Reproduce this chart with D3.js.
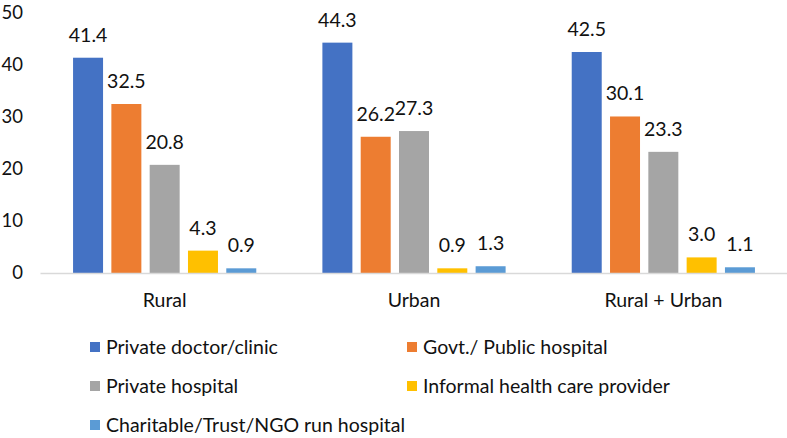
<!DOCTYPE html>
<html>
<head>
<meta charset="utf-8">
<script src="https://cdn.jsdelivr.net/npm/d3@7"></script>
<style>
  html, body { margin: 0; padding: 0; background: #fff; }
  svg { display: block; }
  text { font-family: Lato, "Open Sans", sans-serif; fill: #111; }
</style>
</head>
<body>
<svg id="chart" width="787" height="438"></svg>
<script>
const categories = ["Rural", "Urban", "Rural + Urban"];
const seriesNames = ["Private doctor/clinic", "Govt./ Public hospital", "Private hospital", "Informal health care provider", "Charitable/Trust/NGO run hospital"];
const privateDoctor = [41.4, 44.3, 42.5];
const govtHospital = [32.5, 26.2, 30.1];
const privateHospital = [20.8, 27.3, 23.3];
const informalProvider = [4.3, 0.9, 3.0];
const charitable = [0.9, 1.3, 1.1];
const yTicks = [0, 10, 20, 30, 40, 50];
const colors = ["#4472C4", "#ED7D31", "#A5A5A5", "#FFC000", "#5B9BD5"];

const seriesValues = [privateDoctor, govtHospital, privateHospital, informalProvider, charitable];
const FS = 19.5;

const svg = d3.select("#chart");
const y = d3.scaleLinear().domain([0, 50]).range([273, 13]);
const x0 = d3.scaleBand().domain(categories).range([40, 788]).paddingInner(0).paddingOuter(0);
const x1 = d3.scaleBand().domain(seriesNames).range([0, x0.bandwidth()]).paddingInner(0.217).paddingOuter(0.863);
const color = d3.scaleOrdinal().domain(seriesNames).range(colors);

// y axis labels
const yAxis = d3.axisLeft(y).tickValues(yTicks).tickSize(0).tickPadding(0).tickFormat(d3.format("d"));
const yg = svg.append("g").attr("transform", "translate(23,0)").call(yAxis);
yg.select(".domain").remove();
yg.selectAll("text").attr("font-size", 18.5).attr("font-family", "Lato, sans-serif").attr("fill", "#111");

// groups
const data = categories.map((c, i) => ({ cat: c, vals: seriesNames.map((s, j) => ({ s, v: seriesValues[j][i] })) }));
const g = svg.append("g").selectAll("g").data(data).join("g")
  .attr("transform", d => `translate(${x0(d.cat)},0)`);

g.selectAll("rect").data(d => d.vals).join("rect")
  .attr("x", d => x1(d.s))
  .attr("width", x1.bandwidth())
  .attr("y", d => y(d.v))
  .attr("height", d => y(0) - y(d.v))
  .attr("fill", d => color(d.s));

g.selectAll("text.lbl").data(d => d.vals).join("text")
  .attr("class", "lbl")
  .attr("x", d => x1(d.s) + x1.bandwidth() / 2)
  .attr("y", d => y(d.v) - 16)
  .attr("text-anchor", "middle")
  .attr("font-size", FS)
  .text(d => d3.format(".1f")(d.v));

// x axis
const xAxis = d3.axisBottom(x0).tickSize(0).tickPadding(0);
const xg = svg.append("g").attr("transform", `translate(0,${y(0)})`).call(xAxis);
xg.select(".domain").attr("stroke", "#D9D9D9").attr("stroke-width", 1.5);
xg.selectAll("text").attr("font-size", FS).attr("font-family", "Lato, sans-serif").attr("fill", "#111")
  .attr("dy", null).attr("y", 34);

// legend
const legendPos = [[90, 347], [407, 347], [90, 386], [407, 386], [90, 425]];
const lg = svg.append("g").selectAll("g").data(seriesNames).join("g")
  .attr("transform", (d, i) => `translate(${legendPos[i][0]},${legendPos[i][1]})`);
lg.append("rect").attr("x", 0).attr("y", -5).attr("width", 10).attr("height", 10).attr("fill", d => color(d));
lg.append("text").attr("x", 16).attr("y", 0).attr("dy", "0.35em").attr("font-size", FS).text(d => d);
</script>
</body>
</html>
